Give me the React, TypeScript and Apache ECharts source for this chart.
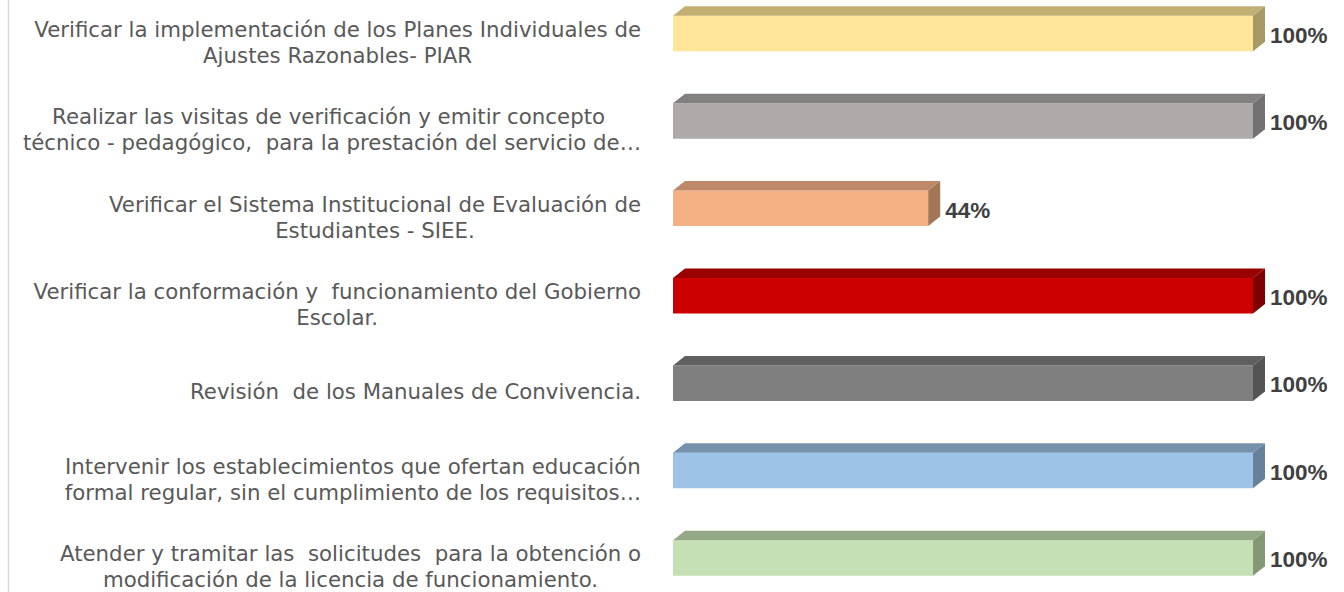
import React, { useEffect, useRef } from "react";
import * as echarts from "echarts";

const categories: string[] = [
  "Verificar la implementación de los Planes Individuales de\nAjustes Razonables- PIAR",
  "Realizar las visitas de verificación y emitir concepto \ntécnico - pedagógico,  para la prestación del servicio de…",
  "Verificar el Sistema Institucional de Evaluación de\nEstudiantes - SIEE.",
  "Verificar la conformación y  funcionamiento del Gobierno\nEscolar.",
  "Revisión  de los Manuales de Convivencia.",
  "Intervenir los establecimientos que ofertan educación\nformal regular, sin el cumplimiento de los requisitos…",
  "Atender y tramitar las  solicitudes  para la obtención o\nmodificación de la licencia de funcionamiento.",
];

const values: number[] = [100, 100, 44, 100, 100, 100, 100];

const frontColors: string[] = ["#FFE699", "#AEAAAA", "#F4B183", "#CC0000", "#7F7F7F", "#9DC3E6", "#C5E0B4"];
const topColors: string[] = ["#C2AF72", "#838080", "#BE8868", "#990000", "#5F5F5F", "#7691AC", "#94A887"];
const sideColors: string[] = ["#A89A67", "#737171", "#A47658", "#7F0000", "#545454", "#67819A", "#849777"];

const LABEL_FONT = '"DejaVu Sans", Arial, sans-serif';
const VALUE_FONT = 'Arial, "Liberation Sans", sans-serif';

// The chart box is taller than the page and shifted up by OFFSET px
const OFFSET = 10;

export default function App() {
  const ref = useRef<HTMLDivElement>(null);
  useEffect(() => {
    if (!ref.current) return;
    const chart = echarts.init(ref.current, undefined, { renderer: "svg" });
    const option: any = {
      animation: false,
      backgroundColor: "#ffffff",
      grid: { left: 673, width: 580, top: 8.5, height: 612, containLabel: false },
      xAxis: { type: "value", min: 0, max: 100, show: false },
      yAxis: {
        type: "category",
        data: categories,
        inverse: true,
        axisLine: { show: false },
        axisTick: { show: false },
        splitLine: { show: false },
        axisLabel: {
          margin: 32,
          align: "right",
          formatter: (val: string) =>
            val
              .split("\n")
              .map((l) => "{c|" + l + "}")
              .join("\n"),
          rich: {
            c: {
              align: "center",
              fontSize: 21.3,
              lineHeight: 26,
              color: "#595959",
              fontFamily: LABEL_FONT,
            },
          },
        },
      },
      graphic: [
        {
          type: "line",
          shape: { x1: 8.5, y1: 0, x2: 8.5, y2: 640 },
          style: { stroke: "#d9d9d9", lineWidth: 1.5 },
          silent: true,
        },
      ],
      series: [
        {
          type: "custom",
          clip: false,
          data: values.map((v, i) => [v, i]),
          encode: { x: 0, y: 1 },
          renderItem: (params: any, api: any) => {
            const idx = params.dataIndex;
            const v = api.value(0);
            const p0 = api.coord([0, idx]);
            const p1 = api.coord([v, idx]);
            const c = p0[1];
            const x0 = p0[0];
            const x1 = p1[0];
            const yT = c - 26.5;
            const yB = c + 9;
            const dx = 12;
            const dy = 9.5;
            return {
              type: "group",
              children: [
                {
                  type: "rect",
                  shape: { x: x0, y: yT, width: x1 - x0, height: yB - yT },
                  style: { fill: frontColors[idx] },
                },
                {
                  type: "polygon",
                  shape: {
                    points: [
                      [x0, yT],
                      [x0 + dx, yT - dy],
                      [x1 + dx, yT - dy],
                      [x1, yT],
                    ],
                  },
                  style: { fill: topColors[idx] },
                },
                {
                  type: "polygon",
                  shape: {
                    points: [
                      [x1, yT],
                      [x1 + dx, yT - dy],
                      [x1 + dx, yB - dy],
                      [x1, yB],
                    ],
                  },
                  style: { fill: sideColors[idx] },
                },
                {
                  type: "text",
                  style: {
                    text: v + "%",
                    x: x1 + dx + 5,
                    y: c - 7,
                    align: "left",
                    verticalAlign: "middle",
                    fill: "#404040",
                    fontSize: 22.5,
                    fontWeight: "bold",
                    fontFamily: VALUE_FONT,
                  },
                },
              ],
            };
          },
        },
      ],
    };
    chart.setOption(option);
    return () => chart.dispose();
  }, []);
  return (
    <div
      ref={ref}
      style={{ position: "fixed", left: 0, top: -OFFSET, width: 1344, height: 640 }}
    />
  );
}
